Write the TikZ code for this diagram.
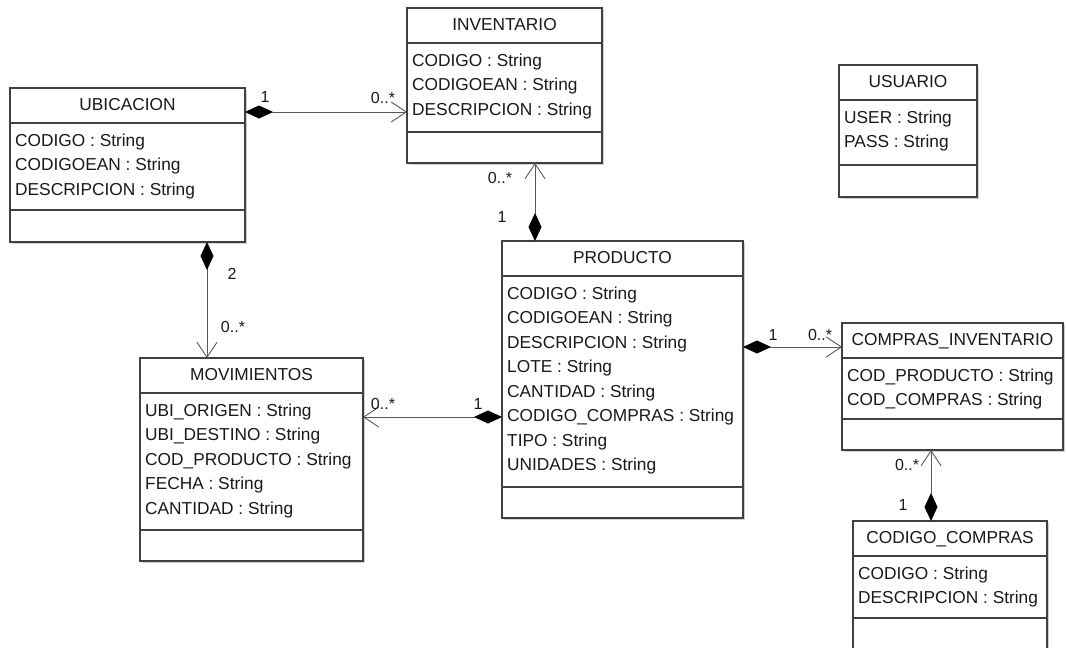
\documentclass[tikz,border=0pt]{standalone}
\usepackage{fontspec}
\setmainfont{Liberation Sans}
\usetikzlibrary{arrows.meta,shadows}
\tikzset{
  clsbox/.style={draw=black!75, line width=1.1pt, fill=white, inner sep=0pt, outer sep=0pt,
    drop shadow={shadow xshift=1.5pt, shadow yshift=-1.5pt, fill=black!35}},
  clsline/.style={draw=black!75, line width=1.1pt},
  clstitle/.style={font=\fontsize{17.3}{19}\selectfont, text=black!90, anchor=base, inner sep=0pt},
  clsattr/.style={font=\fontsize{17.3}{19}\selectfont, text=black!90, anchor=base west, inner sep=0pt},
  assoc/.style={draw=black!65, line width=0.9pt},
  mult/.style={font=\fontsize{16}{18}\selectfont, text=black!90, inner sep=0pt},
  compdiam/.tip={Diamond[length=28pt,width=13pt,black]},
  openbarb/.tip={Straight Barb[length=15pt,width=20pt]}
}
\newcommand\umlclass[8]{%
  \node[clsbox, minimum width={#4-#2}, minimum height={#5-#3}] (#1) at ({(#2+#4)/2},{(#3+#5)/2}) {};
  \draw[clsline] ({#2},{#3+35}) -- ({#4},{#3+35});
  \draw[clsline] ({#2},{#6}) -- ({#4},{#6});
  \node[clstitle] (#1-t) at ({(#2+#4)/2},{#3+22}) {#7};
  \foreach \a [count=\i] in {#8} {\node[clsattr] (#1-a\i) at ({#2+5},{#3+58+24.5*(\i-1)}) {\a};}
}
\begin{document}
\begin{tikzpicture}[x=1pt,y=-1pt]
\useasboundingbox (0,0) rectangle (1066,648);
\clip (0,0) rectangle (1066,648);
\fill[white] (0,0) rectangle (1066,648);

\umlclass{ubi}{10}{88}{245}{242}{210}{UBICACION}{CODIGO : String, CODIGOEAN : String, DESCRIPCION : String}
\umlclass{inv}{407}{8}{602}{163}{132}{INVENTARIO}{CODIGO : String, CODIGOEAN : String, DESCRIPCION : String}
\umlclass{usu}{839}{65}{977}{197}{165}{USUARIO}{USER : String, PASS : String}
\umlclass{mov}{140}{358}{363}{561}{530}{MOVIMIENTOS}{UBI\_ORIGEN : String, UBI\_DESTINO : String, COD\_PRODUCTO : String, FECHA : String, CANTIDAD : String}
\umlclass{pro}{502}{241}{743}{518}{487}{PRODUCTO}{CODIGO : String, CODIGOEAN : String, DESCRIPCION : String, LOTE : String, CANTIDAD : String, CODIGO\_COMPRAS : String, TIPO : String, UNIDADES : String}
\umlclass{ci}{842}{323}{1063}{450}{419}{COMPRAS\_INVENTARIO}{COD\_PRODUCTO : String, COD\_COMPRAS : String}
\umlclass{cc}{853}{521}{1047}{665}{618}{CODIGO\_COMPRAS}{CODIGO : String, DESCRIPCION : String}

\draw[assoc, {compdiam}-{openbarb}] (ubi.east |- 0,112) -- (inv.west |- 0,112);
\draw[assoc, {compdiam}-{openbarb}] (535,0 |- pro.north) -- (535,0 |- inv.south);
\draw[assoc, {compdiam}-{openbarb}] (207,0 |- ubi.south) -- (207,0 |- mov.north);
\draw[assoc, {compdiam}-{openbarb}] (pro.west |- 0,417) -- (mov.east |- 0,417);
\draw[assoc, {compdiam}-{openbarb}] (pro.east |- 0,347) -- (ci.west |- 0,347);
\draw[assoc, {compdiam}-{openbarb}] (931,0 |- cc.north) -- (931,0 |- ci.south);

\node[mult] (m1a) at (265,97) {1};
\node[mult] (m1b) at (383,98) {0..*};
\node[mult] (m2a) at (500,178) {0..*};
\node[mult] (m2b) at (502,217) {1};
\node[mult] (m3a) at (232,274) {2};
\node[mult] (m3b) at (233,327) {0..*};
\node[mult] (m4a) at (383,404) {0..*};
\node[mult] (m4b) at (478,404) {1};
\node[mult] (m5a) at (773,335) {1};
\node[mult] (m5b) at (820,335) {0..*};
\node[mult] (m6a) at (907,465) {0..*};
\node[mult] (m6b) at (903,505) {1};
\end{tikzpicture}
\end{document}
